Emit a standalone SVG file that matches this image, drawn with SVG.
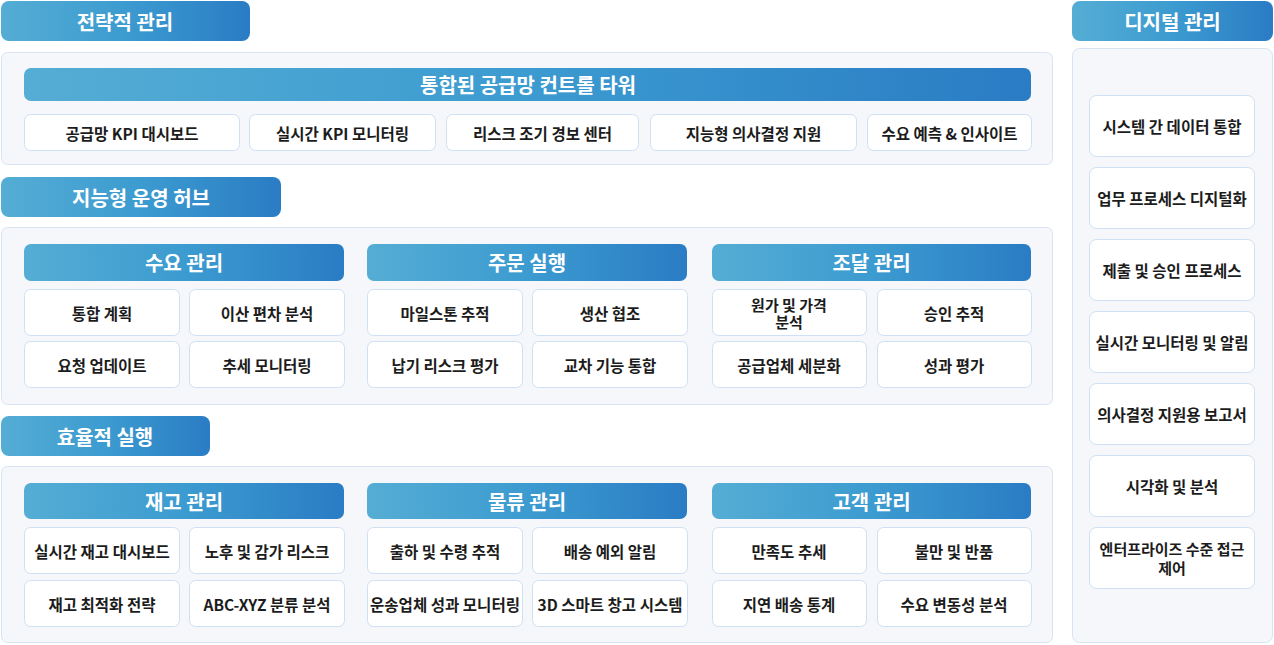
<svg xmlns="http://www.w3.org/2000/svg" width="1274" height="645" viewBox="0 0 1274 645">
<defs>
<linearGradient id="g" x1="0" y1="0" x2="1" y2="0">
<stop offset="0" stop-color="#55add4"/>
<stop offset="0.5" stop-color="#3c9bd0"/>
<stop offset="1" stop-color="#2a7cc4"/>
</linearGradient>
<style>
.hd{fill:url(#g);}
.pn{fill:#f5f7fb;stroke:#d8e4f3;stroke-width:1;}
.cl{fill:#ffffff;stroke:#cfe0f4;stroke-width:1;}
.ht{font-family:"Noto Sans CJK KR","Noto Sans",sans-serif;font-weight:700;font-size:20px;fill:#ffffff;text-anchor:middle;dominant-baseline:central;}
.st{font-family:"Noto Sans CJK KR","Noto Sans",sans-serif;font-weight:700;font-size:20px;fill:#ffffff;text-anchor:middle;dominant-baseline:central;}
.ct{font-family:"Noto Sans CJK KR","Noto Sans",sans-serif;font-weight:700;font-size:15.5px;fill:#1c1c1c;text-anchor:middle;dominant-baseline:central;}
.c2{font-family:"Noto Sans CJK KR","Noto Sans",sans-serif;font-weight:700;font-size:15px;fill:#1c1c1c;text-anchor:middle;}
</style>
</defs>
<rect width="1274" height="645" fill="#ffffff"/>
<g id="connectors"></g>

<g id="strategic">
<rect class="hd" x="1" y="1" width="249" height="40" rx="8"/>
<text class="ht" x="125" y="21">전략적 관리</text>
<rect class="pn" x="1.5" y="52.5" width="1051" height="112" rx="6"/>
<g id="control-tower">
<rect class="hd" x="24" y="68" width="1007" height="33" rx="7"/>
<text class="st" x="528" y="84.5">통합된 공급망 컨트롤 타워</text>
</g>
<g id="kpi-dashboard"><rect class="cl" x="24.5" y="114.5" width="215" height="36" rx="6"/><text class="ct" x="132" y="132.5">공급망 KPI 대시보드</text></g>
<g id="kpi-monitoring"><rect class="cl" x="249.5" y="114.5" width="186" height="36" rx="6"/><text class="ct" x="342.5" y="132.5">실시간 KPI 모니터링</text></g>
<g id="risk-alert"><rect class="cl" x="446.5" y="114.5" width="192" height="36" rx="6"/><text class="ct" x="542.5" y="132.5">리스크 조기 경보 센터</text></g>
<g id="decision-support"><rect class="cl" x="650.5" y="114.5" width="206" height="36" rx="6"/><text class="ct" x="753.5" y="132.5">지능형 의사결정 지원</text></g>
<g id="demand-insight"><rect class="cl" x="867.5" y="114.5" width="164" height="36" rx="6"/><text class="ct" x="949.5" y="132.5">수요 예측 &amp; 인사이트</text></g>
</g>

<g id="ops-hub">
<rect class="hd" x="1" y="177" width="280" height="40" rx="8"/>
<text class="ht" x="141" y="197">지능형 운영 허브</text>
<rect class="pn" x="1.5" y="227.5" width="1051" height="177" rx="6"/>

<g id="demand">
<rect class="hd" x="24" y="244" width="320" height="37" rx="7"/>
<text class="st" x="184" y="262.5">수요 관리</text>
<g id="d1"><rect class="cl" x="24.5" y="289.5" width="155" height="46" rx="6"/><text class="ct" x="102" y="312.5">통합 계획</text></g>
<g id="d2"><rect class="cl" x="189.5" y="289.5" width="155" height="46" rx="6"/><text class="ct" x="267" y="312.5">이산 편차 분석</text></g>
<g id="d3"><rect class="cl" x="24.5" y="341.5" width="155" height="46" rx="6"/><text class="ct" x="102" y="364.5">요청 업데이트</text></g>
<g id="d4"><rect class="cl" x="189.5" y="341.5" width="155" height="46" rx="6"/><text class="ct" x="267" y="364.5">추세 모니터링</text></g>
</g>

<g id="order">
<rect class="hd" x="367" y="244" width="320" height="37" rx="7"/>
<text class="st" x="527" y="262.5">주문 실행</text>
<g id="o1"><rect class="cl" x="367.5" y="289.5" width="155" height="46" rx="6"/><text class="ct" x="445" y="312.5">마일스톤 추적</text></g>
<g id="o2"><rect class="cl" x="532.5" y="289.5" width="155" height="46" rx="6"/><text class="ct" x="610" y="312.5">생산 협조</text></g>
<g id="o3"><rect class="cl" x="367.5" y="341.5" width="155" height="46" rx="6"/><text class="ct" x="445" y="364.5">납기 리스크 평가</text></g>
<g id="o4"><rect class="cl" x="532.5" y="341.5" width="155" height="46" rx="6"/><text class="ct" x="610" y="364.5">교차 기능 통합</text></g>
</g>

<g id="procure">
<rect class="hd" x="712" y="244" width="319" height="37" rx="7"/>
<text class="st" x="871.5" y="262.5">조달 관리</text>
<g id="p1"><rect class="cl" x="712.5" y="289.5" width="154" height="46" rx="6"/><text class="c2" x="789" y="311"><tspan x="789" y="311">원가 및 가격</tspan><tspan x="789" y="328">분석</tspan></text></g>
<g id="p2"><rect class="cl" x="877.5" y="289.5" width="154" height="46" rx="6"/><text class="ct" x="954" y="312.5">승인 추적</text></g>
<g id="p3"><rect class="cl" x="712.5" y="341.5" width="154" height="46" rx="6"/><text class="ct" x="789" y="364.5">공급업체 세분화</text></g>
<g id="p4"><rect class="cl" x="877.5" y="341.5" width="154" height="46" rx="6"/><text class="ct" x="954" y="364.5">성과 평가</text></g>
</g>
</g>

<g id="execution">
<rect class="hd" x="1" y="416" width="209" height="40" rx="8"/>
<text class="ht" x="105" y="436">효율적 실행</text>
<rect class="pn" x="1.5" y="466.5" width="1051" height="176" rx="6"/>

<g id="inventory">
<rect class="hd" x="24" y="483" width="320" height="36" rx="7"/>
<text class="st" x="184" y="501">재고 관리</text>
<g id="i1"><rect class="cl" x="24.5" y="527.5" width="155" height="46" rx="6"/><text class="ct" x="102" y="550.5">실시간 재고 대시보드</text></g>
<g id="i2"><rect class="cl" x="189.5" y="527.5" width="155" height="46" rx="6"/><text class="ct" x="267" y="550.5">노후 및 감가 리스크</text></g>
<g id="i3"><rect class="cl" x="24.5" y="580.5" width="155" height="46" rx="6"/><text class="ct" x="102" y="603.5">재고 최적화 전략</text></g>
<g id="i4"><rect class="cl" x="189.5" y="580.5" width="155" height="46" rx="6"/><text class="ct" x="267" y="603.5">ABC-XYZ 분류 분석</text></g>
</g>

<g id="logistics">
<rect class="hd" x="367" y="483" width="320" height="36" rx="7"/>
<text class="st" x="527" y="501">물류 관리</text>
<g id="l1"><rect class="cl" x="367.5" y="527.5" width="155" height="46" rx="6"/><text class="ct" x="445" y="550.5">출하 및 수령 추적</text></g>
<g id="l2"><rect class="cl" x="532.5" y="527.5" width="155" height="46" rx="6"/><text class="ct" x="610" y="550.5">배송 예외 알림</text></g>
<g id="l3"><rect class="cl" x="367.5" y="580.5" width="155" height="46" rx="6"/><text class="ct" x="445" y="603.5" textLength="150" lengthAdjust="spacingAndGlyphs">운송업체 성과 모니터링</text></g>
<g id="l4"><rect class="cl" x="532.5" y="580.5" width="155" height="46" rx="6"/><text class="ct" x="610" y="603.5">3D 스마트 창고 시스템</text></g>
</g>

<g id="customer">
<rect class="hd" x="712" y="483" width="319" height="36" rx="7"/>
<text class="st" x="871.5" y="501">고객 관리</text>
<g id="c1"><rect class="cl" x="712.5" y="527.5" width="154" height="46" rx="6"/><text class="ct" x="789" y="550.5">만족도 추세</text></g>
<g id="c2"><rect class="cl" x="877.5" y="527.5" width="154" height="46" rx="6"/><text class="ct" x="954" y="550.5">불만 및 반품</text></g>
<g id="c3"><rect class="cl" x="712.5" y="580.5" width="154" height="46" rx="6"/><text class="ct" x="789" y="603.5">지연 배송 통계</text></g>
<g id="c4"><rect class="cl" x="877.5" y="580.5" width="154" height="46" rx="6"/><text class="ct" x="954" y="603.5">수요 변동성 분석</text></g>
</g>
</g>

<g id="digital">
<rect class="hd" x="1072" y="1" width="201" height="40" rx="8"/>
<text class="ht" x="1172.5" y="21">디지털 관리</text>
<rect class="pn" x="1072.5" y="48.5" width="200" height="594" rx="7"/>
<g id="r1"><rect class="cl" x="1089.5" y="95.5" width="165" height="61" rx="7"/><text class="ct" x="1172" y="126">시스템 간 데이터 통합</text></g>
<g id="r2"><rect class="cl" x="1089.5" y="167.5" width="165" height="61" rx="7"/><text class="ct" x="1172" y="198">업무 프로세스 디지털화</text></g>
<g id="r3"><rect class="cl" x="1089.5" y="239.5" width="165" height="61" rx="7"/><text class="ct" x="1172" y="270">제출 및 승인 프로세스</text></g>
<g id="r4"><rect class="cl" x="1089.5" y="311.5" width="165" height="61" rx="7"/><text class="ct" x="1172" y="342">실시간 모니터링 및 알림</text></g>
<g id="r5"><rect class="cl" x="1089.5" y="383.5" width="165" height="61" rx="7"/><text class="ct" x="1172" y="414">의사결정 지원용 보고서</text></g>
<g id="r6"><rect class="cl" x="1089.5" y="455.5" width="165" height="61" rx="7"/><text class="ct" x="1172" y="486">시각화 및 분석</text></g>
<g id="r7"><rect class="cl" x="1089.5" y="527.5" width="165" height="61" rx="7"/><text class="c2" x="1172" y="555"><tspan x="1172" y="555">엔터프라이즈 수준 접근</tspan><tspan x="1172" y="574">제어</tspan></text></g>
</g>
</svg>
